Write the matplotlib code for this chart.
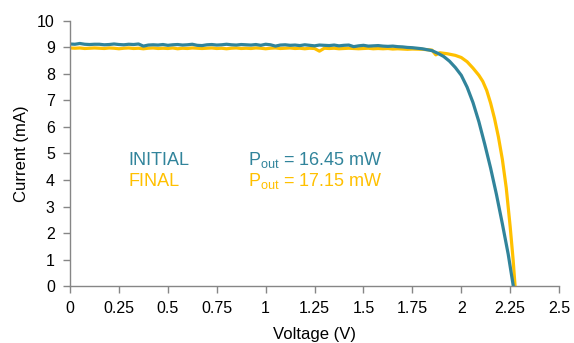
import numpy as np
import matplotlib
matplotlib.use("Agg")
import matplotlib.pyplot as plt

plt.rcParams["font.family"] = ["Liberation Sans", "DejaVu Sans"]
plt.rcParams["mathtext.default"] = "regular"

TEAL = "#31849B"
GOLD = "#FFC000"

# flat part, read every 0.025 V from 0 to 1.75 V
initial_flat = [9.13, 9.12, 9.15, 9.12, 9.11, 9.12, 9.12, 9.10, 9.11, 9.13,
                9.11, 9.10, 9.12, 9.11, 9.13, 9.05, 9.09, 9.10, 9.09, 9.11,
                9.08, 9.10, 9.11, 9.09, 9.10, 9.12, 9.08, 9.07, 9.10, 9.11,
                9.09, 9.10, 9.12, 9.10, 9.09, 9.11, 9.10, 9.09, 9.11, 9.08,
                9.12, 9.10, 9.05, 9.09, 9.10, 9.08, 9.09, 9.07, 9.10, 9.08,
                9.06, 9.09, 9.08, 9.07, 9.09, 9.06, 9.08, 9.09, 9.03, 9.06,
                9.08, 9.05, 9.06, 9.07, 9.05, 9.04, 9.05, 9.03, 9.02, 9.00,
                8.99]
final_flat = [8.98, 8.97, 8.98, 8.96, 8.97, 8.98, 8.97, 8.96, 8.98, 8.97,
              8.95, 8.97, 8.98, 8.96, 8.97, 8.95, 8.97, 8.98, 8.96, 8.97,
              8.96, 8.98, 8.95, 8.97, 8.96, 8.98, 8.97, 8.96, 8.97, 8.98,
              8.96, 8.97, 8.95, 8.97, 8.98, 8.96, 8.97, 8.96, 8.98, 8.97,
              8.95, 8.97, 8.98, 8.96, 8.97, 8.98, 8.96, 8.97, 8.95, 8.97,
              8.96, 8.86, 8.97, 8.96, 8.97, 8.95, 8.96, 8.97, 8.96, 8.95,
              8.96, 8.97, 8.95, 8.96, 8.95, 8.96, 8.94, 8.95, 8.94, 8.93,
              8.94]
flat_step = 0.025

# knee and drop-off
initial_tail_v = [1.80, 1.85, 1.88, 1.91, 1.94, 1.97, 2.00, 2.03, 2.06, 2.09,
                  2.12, 2.15, 2.18, 2.21, 2.24, 2.266]
initial_tail_i = [8.95, 8.88, 8.78, 8.66, 8.48, 8.24, 7.95, 7.50, 6.92, 6.20,
                  5.35, 4.45, 3.45, 2.35, 1.20, 0.0]
final_tail_v = [1.80, 1.85, 1.87, 1.89, 1.93, 1.97, 2.00, 2.03, 2.06, 2.09,
                2.11, 2.13, 2.15, 2.17, 2.19, 2.21, 2.23, 2.25, 2.265, 2.275]
final_tail_i = [8.93, 8.90, 8.72, 8.80, 8.76, 8.70, 8.62, 8.46, 8.22, 7.95,
                7.72, 7.38, 6.90, 6.32, 5.62, 4.78, 3.70, 2.24, 1.00, 0.0]

v_init = np.concatenate([np.arange(len(initial_flat)) * flat_step, initial_tail_v])
i_init = np.concatenate([initial_flat, initial_tail_i])
v_final = np.concatenate([np.arange(len(final_flat)) * flat_step, final_tail_v])
i_final = np.concatenate([final_flat, final_tail_i])

x_ticks = [0, 0.25, 0.5, 0.75, 1, 1.25, 1.5, 1.75, 2, 2.25, 2.5]
x_labels = ["0", "0.25", "0.5", "0.75", "1", "1.25", "1.5", "1.75", "2", "2.25", "2.5"]

fig = plt.figure(figsize=(5.74, 3.43), dpi=100)
ax = fig.add_axes([0.122, 0.166, 0.852, 0.773])

ax.plot(v_final, i_final, color=GOLD, lw=2.3, solid_joinstyle="round")
ax.plot(v_init, i_init, color=TEAL, lw=2.3, solid_joinstyle="round")

ax.set_xlim(0, 2.5)
ax.set_ylim(0, 10)
ax.set_xticks(x_ticks)
ax.set_xticklabels(x_labels)
ax.set_yticks(range(11))

for side in ("top", "right"):
    ax.spines[side].set_visible(False)
for side in ("left", "bottom"):
    ax.spines[side].set_color("#868686")
    ax.spines[side].set_linewidth(1.0)
ax.tick_params(direction="out", length=5, width=1, color="#868686",
               labelsize=11.5, labelcolor="black", pad=6)

ax.set_xlabel("Voltage (V)", fontsize=12, labelpad=8)
ax.set_ylabel("Current (mA)", fontsize=12, labelpad=6)

ax.text(0.30, 4.75, "INITIAL", color=TEAL, fontsize=13, va="center")
ax.text(0.30, 3.95, "FINAL", color=GOLD, fontsize=13, va="center")
ax.text(0.91, 4.75, "P$_{out}$ = 16.45 mW", color=TEAL, fontsize=13, va="center")
ax.text(0.91, 3.95, "P$_{out}$ = 17.15 mW", color=GOLD, fontsize=13, va="center")

fig.savefig("out.png", dpi=100)
